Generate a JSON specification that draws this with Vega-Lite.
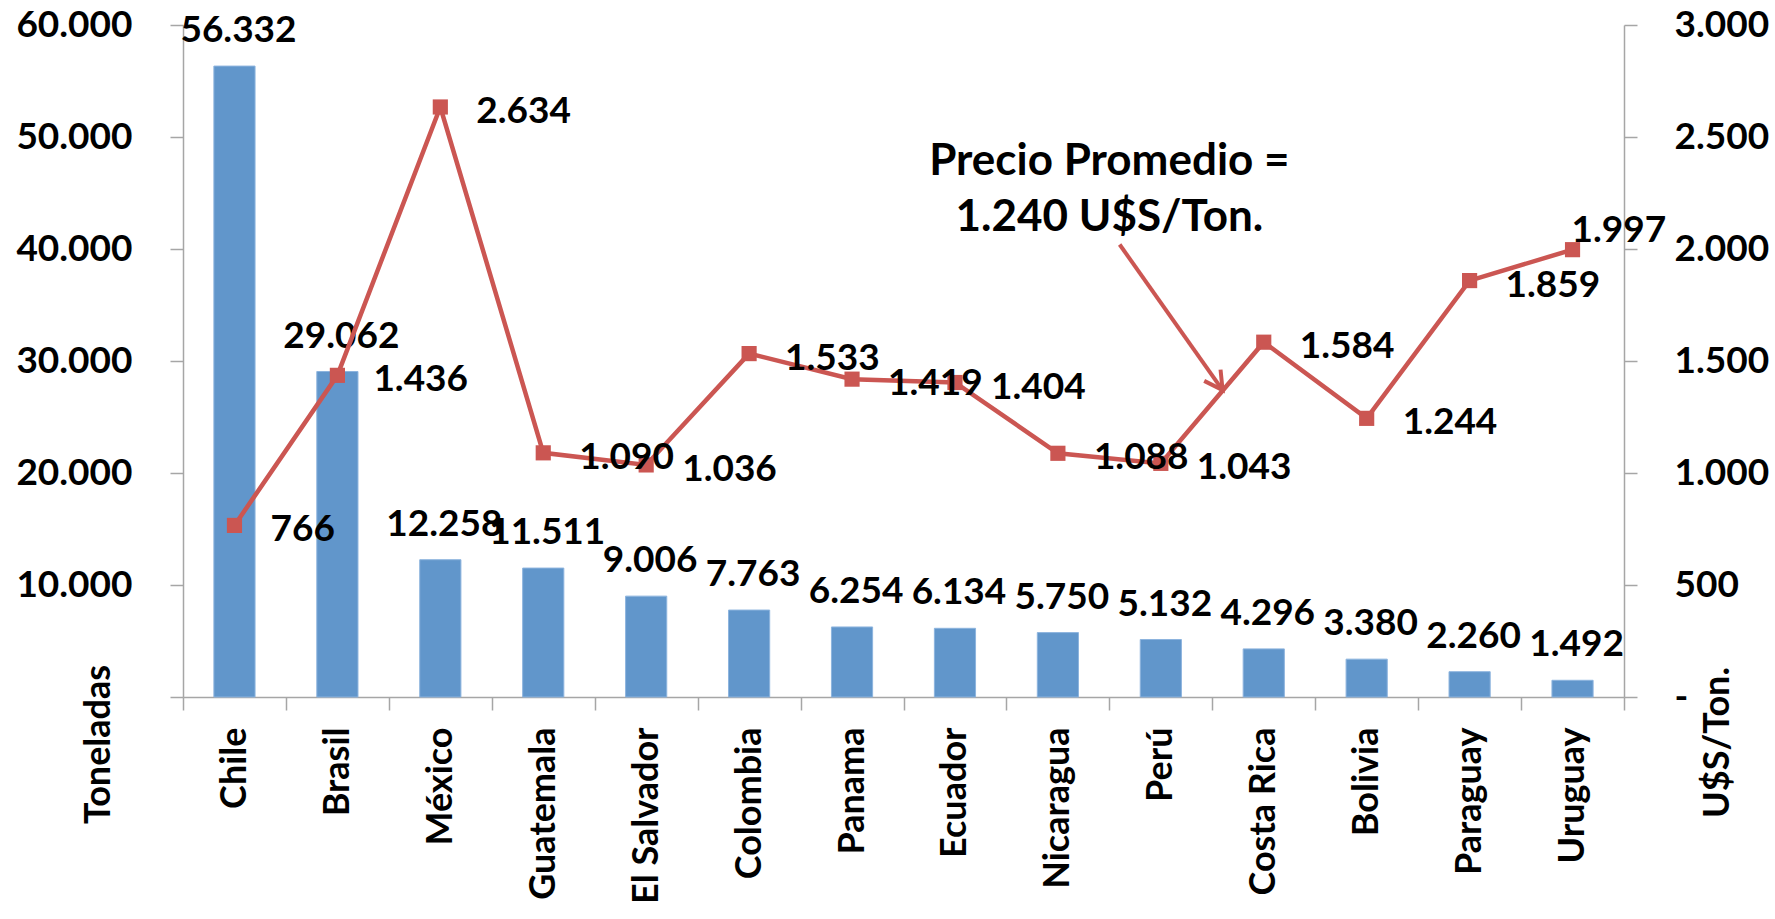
{
  "$schema": "https://vega.github.io/schema/vega-lite/v6.json",
  "width": 1441,
  "height": 672,
  "autosize": {"type": "none"},
  "padding": {"left": 183, "top": 25, "right": 151, "bottom": 222},
  "background": "white",
  "config": {
    "locale": {"number": {"decimal": ",", "thousands": ".", "grouping": [3], "currency": ["$", ""]}},
    "view": {"stroke": null},
    "font": "Lato",
    "axis": {
      "labelFont": "Lato", "labelFontSize": 37, "labelFontWeight": "bold", "labelColor": "#000000",
      "titleFont": "Lato", "titleFontSize": 36, "titleFontWeight": "bold", "titleColor": "#000000",
      "domainColor": "#A6A6A6", "tickColor": "#A6A6A6", "domainWidth": 1.5, "tickWidth": 1.5,
      "tickSize": 13, "grid": false, "labelLimit": 500
    },
    "text": {"font": "Lato", "fontSize": 37, "fontWeight": "bold", "color": "#000000"}
  },
  "datasets": {
    "paises": [
      {"pais": "Chile", "ton": 56332, "precio": 766},
      {"pais": "Brasil", "ton": 29062, "precio": 1436},
      {"pais": "México", "ton": 12258, "precio": 2634},
      {"pais": "Guatemala", "ton": 11511, "precio": 1090},
      {"pais": "El Salvador", "ton": 9006, "precio": 1036},
      {"pais": "Colombia", "ton": 7763, "precio": 1533},
      {"pais": "Panama", "ton": 6254, "precio": 1419},
      {"pais": "Ecuador", "ton": 6134, "precio": 1404},
      {"pais": "Nicaragua", "ton": 5750, "precio": 1088},
      {"pais": "Perú", "ton": 5132, "precio": 1043},
      {"pais": "Costa Rica", "ton": 4296, "precio": 1584},
      {"pais": "Bolivia", "ton": 3380, "precio": 1244},
      {"pais": "Paraguay", "ton": 2260, "precio": 1859},
      {"pais": "Uruguay", "ton": 1492, "precio": 1997}
    ],
    "flecha": [
      {"pais": "Nicaragua", "precio": 2020},
      {"pais": "Perú", "precio": 1370}
    ],
    "nota": [
      {"pais": "Nicaragua", "precio": 2330, "texto": "Precio Promedio ="},
      {"pais": "Nicaragua", "precio": 2080, "texto": "1.240 U$S/Ton."}
    ]
  },
  "data": {"name": "paises"},
  "layer": [
    {
      "layer": [
        {
          "mark": {"type": "bar", "width": {"band": 0.4}, "color": "#6196CB", "stroke": "#8DB4DE", "strokeWidth": 1},
          "encoding": {
            "x": {
              "field": "pais", "type": "nominal", "sort": null, "title": null,
              "scale": {"domain": ["Chile", "Brasil", "México", "Guatemala", "El Salvador", "Colombia", "Panama", "Ecuador", "Nicaragua", "Perú", "Costa Rica", "Bolivia", "Paraguay", "Uruguay"], "paddingInner": 0, "paddingOuter": 0},
              "axis": {"labelAngle": -90, "labelFontSize": 36, "labelPadding": 17, "tickBand": "extent", "labelAlign": "right", "labelBaseline": "middle"}
            },
            "y": {
              "field": "ton", "type": "quantitative",
              "scale": {"domain": [0, 60000]},
              "axis": {
                "title": "Toneladas", "values": [0, 10000, 20000, 30000, 40000, 50000, 60000],
                "format": ",d", "labelExpr": "datum.value === 0 ? '' : datum.label",
                "labelPadding": 38, "titleAngle": 270, "titleX": -74, "titleY": 719,
                "titleAlign": "center", "titleBaseline": "alphabetic"
              }
            }
          }
        },
        {
          "mark": {"type": "text", "dx": 4, "dy": -24, "baseline": "alphabetic", "align": "center"},
          "encoding": {
            "x": {"field": "pais", "type": "nominal", "sort": null},
            "y": {"field": "ton", "type": "quantitative"},
            "text": {"field": "ton", "type": "quantitative", "format": ",d"}
          }
        }
      ]
    },
    {
      "layer": [
        {
          "mark": {"type": "line", "color": "#CB5652", "strokeWidth": 4.5},
          "encoding": {
            "x": {"field": "pais", "type": "nominal", "sort": null},
            "y": {
              "field": "precio", "type": "quantitative",
              "scale": {"domain": [0, 3000]},
              "axis": {
                "orient": "right", "title": "U$S/Ton.", "values": [0, 500, 1000, 1500, 2000, 2500, 3000],
                "format": ",d", "labelExpr": "datum.value === 0 ? '-' : datum.label",
                "labelAlign": "left", "labelPadding": 37, "titleAngle": 270, "titleX": 104, "titleY": 717,
                "titleAlign": "center", "titleBaseline": "alphabetic"
              }
            }
          }
        },
        {
          "mark": {"type": "point", "shape": "square", "filled": true, "size": 230, "color": "#CB5652", "opacity": 1},
          "encoding": {
            "x": {"field": "pais", "type": "nominal", "sort": null},
            "y": {"field": "precio", "type": "quantitative"}
          }
        },
        {
          "transform": [{"filter": "datum.pais !== 'Uruguay'"}],
          "mark": {"type": "text", "align": "left", "baseline": "alphabetic", "dx": 36, "dy": 16},
          "encoding": {
            "x": {"field": "pais", "type": "nominal", "sort": null},
            "y": {"field": "precio", "type": "quantitative"},
            "text": {"field": "precio", "type": "quantitative", "format": ",d"}
          }
        },
        {
          "transform": [{"filter": "datum.pais === 'Uruguay'"}],
          "mark": {"type": "text", "align": "left", "baseline": "alphabetic", "dx": -1, "dy": -8},
          "encoding": {
            "x": {"field": "pais", "type": "nominal", "sort": null},
            "y": {"field": "precio", "type": "quantitative"},
            "text": {"field": "precio", "type": "quantitative", "format": ",d"}
          }
        },
        {
          "data": {"name": "flecha"},
          "mark": {"type": "line", "color": "#CB5652", "strokeWidth": 4},
          "encoding": {
            "x": {"field": "pais", "type": "nominal", "sort": null, "bandPosition": 1.1},
            "y": {"field": "precio", "type": "quantitative"}
          }
        },
        {
          "data": {"name": "flecha"},
          "transform": [{"filter": "datum.pais === 'Perú'"}],
          "mark": {"type": "point", "shape": "M-0.55,-1L0,0L0.55,-1", "filled": false, "stroke": "#CB5652", "strokeWidth": 4, "size": 1300, "angle": 325.5, "opacity": 1},
          "encoding": {
            "x": {"field": "pais", "type": "nominal", "sort": null, "bandPosition": 1.1},
            "y": {"field": "precio", "type": "quantitative"}
          }
        },
        {
          "data": {"name": "nota"},
          "mark": {"type": "text", "align": "center", "baseline": "alphabetic", "fontSize": 44},
          "encoding": {
            "x": {"field": "pais", "type": "nominal", "sort": null, "bandPosition": 1},
            "y": {"field": "precio", "type": "quantitative"},
            "text": {"field": "texto", "type": "nominal"}
          }
        }
      ]
    }
  ],
  "resolve": {"scale": {"y": "independent"}, "axis": {"y": "independent"}}
}
